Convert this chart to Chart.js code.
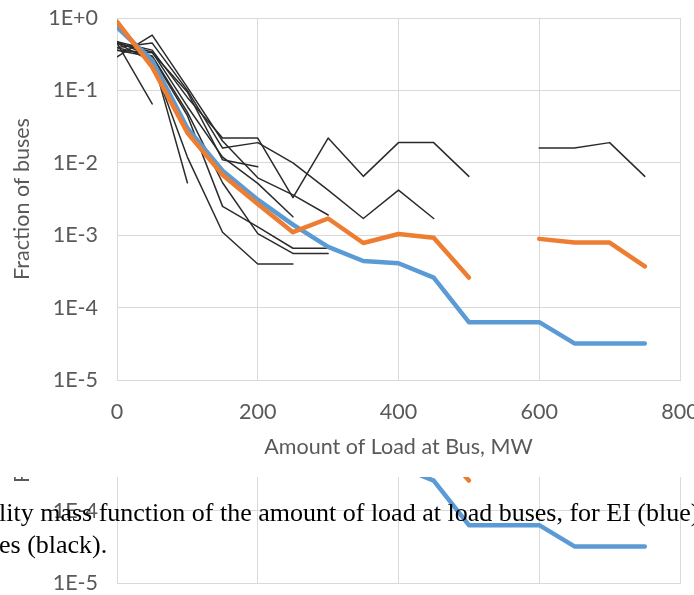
<!DOCTYPE html>
<html>
<head>
<meta charset="utf-8">
<script src="https://cdn.jsdelivr.net/npm/chart.js@4.4.1/dist/chart.umd.min.js"></script>
<style>
  html, body { margin: 0; padding: 0; background: #fff; width: 694px; height: 595px; overflow: hidden; }
  #main { position: absolute; left: 0; top: 0; }
  /* second copy of the plot, only its lower strip shows under the first one */
  #echo { position: absolute; left: 0; top: 477px; width: 720px; height: 118px; overflow: hidden; }
  #echo canvas { position: absolute; left: 0; top: -274px; }
  .caption { position: absolute; left: -1px; font-family: 'Liberation Serif', serif; font-size: 26px; line-height: 26px; color: #000; white-space: nowrap; }
</style>
</head>
<body>
<canvas id="main" width="720" height="470"></canvas>
<div id="echo"><canvas id="copy" width="720" height="470"></canvas></div>
<div class="caption" style="top: 500px;">lity mass function of the amount of load at load buses, for EI (blue)</div>
<div class="caption" style="top: 532px;">es (black).</div>
<script>
'use strict';
// load bins, MW
const loads = [0, 50, 100, 150, 200, 250, 300, 350, 400, 450, 500, 550, 600, 650, 700, 750];

// fraction of buses in each bin
const eiShare = [0.75, 0.26, 0.030, 0.0078, 0.0031, 0.0014, 0.00069, 0.00044, 0.00041, 0.00026,
  0.000063, 0.000063, 0.000063, 0.000032, 0.000032, 0.000032];
const orangeShare = [0.89, 0.21, 0.026, 0.0068, 0.0027, 0.0011, 0.0017, 0.00078, 0.00104, 0.00092,
  0.00026, null, 0.00089, 0.00079, 0.00079, 0.00037];

// the thin black cases
const n = null;
const caseShares = [
  [0.47, 0.36, 0.08, 0.022, 0.022, 0.0033, 0.022, 0.0065, 0.019, 0.019, 0.0065, n, 0.016, 0.016, 0.019, 0.0065],
  [0.39, 0.45, 0.10, 0.016, 0.019, 0.010, 0.0042, 0.0017, 0.0042, 0.0017, n, n, n, n, n, n],
  [0.36, 0.33, 0.095, 0.011, 0.0088, n, n, n, n, n, n, n, n, n, n, n],
  [0.29, 0.58, 0.11, 0.020, 0.0062, 0.0036, 0.0019, n, n, n, n, n, n, n, n, n],
  [0.45, 0.34, 0.06, 0.012, 0.0052, 0.0018, n, n, n, n, n, n, n, n, n, n],
  [0.47, 0.29, 0.045, 0.0025, 0.0013, 0.00066, 0.00066, n, n, n, n, n, n, n, n, n],
  [0.39, 0.30, 0.05, 0.0053, 0.00105, 0.00056, 0.00056, n, n, n, n, n, n, n, n, n],
  [0.45, 0.25, 0.012, 0.0011, 0.0004, 0.0004, n, n, n, n, n, n, n, n, n, n],
  [0.45, 0.065, n, n, n, n, n, n, n, n, n, n, n, n, n, n],
  [0.36, 0.29, 0.0053, n, n, n, n, n, n, n, n, n, n, n, n, n],
];

// axis ticks
const xTickValues = [0, 200, 400, 600, 800];
const yTickValues = [1, 1e-1, 1e-2, 1e-3, 1e-4, 1e-5];
const yTickLabels = ['1E+0', '1E-1', '1E-2', '1E-3', '1E-4', '1E-5'];

const textColor = '#595959';
const gridColor = '#d9d9d9';
const axisFont = { family: 'Lato', size: 21.5 };

function toPoints(values) {
  return loads.map((x, i) => ({ x: x, y: values[i] }));
}

function buildDatasets() {
  const sets = [
    { data: toPoints(orangeShare), borderColor: '#ed7d31', borderWidth: 4.5, order: 0 },
    { data: toPoints(eiShare), borderColor: '#5b9bd5', borderWidth: 4.5, order: 1 },
  ];
  for (let i = 0; i < caseShares.length; i++) {
    sets.push({ data: toPoints(caseShares[i]), borderColor: '#2b2b2b', borderWidth: 1.5, order: 2 });
  }
  return sets;
}

function renderChart(canvasId) {
  const ctx = document.getElementById(canvasId).getContext('2d');
  new Chart(ctx, {
    type: 'line',
    data: { datasets: buildDatasets() },
    options: {
      responsive: false,
      animation: false,
      devicePixelRatio: 1,
      layout: { padding: { top: 18, right: 40, bottom: 0, left: 0 } },
      plugins: { legend: { display: false }, tooltip: { enabled: false } },
      elements: {
        point: { radius: 0 },
        line: { tension: 0, borderCapStyle: 'round', borderJoinStyle: 'round' },
      },
      scales: {
        x: {
          type: 'linear',
          min: 0,
          max: 800,
          afterBuildTicks: (scale) => { scale.ticks = xTickValues.map((v) => ({ value: v })); },
          afterFit: (scale) => { scale.height = 90; },
          grid: { color: gridColor, drawTicks: false },
          border: { color: gridColor },
          ticks: { padding: 19, color: textColor, font: axisFont, maxRotation: 0 },
          title: {
            display: true,
            text: 'Amount of Load at Bus, MW',
            color: textColor,
            font: axisFont,
            padding: { top: 0, bottom: 10 },
          },
        },
        y: {
          type: 'logarithmic',
          min: 1e-5,
          max: 1,
          afterBuildTicks: (scale) => { scale.ticks = yTickValues.map((v) => ({ value: v })); },
          afterFit: (scale) => {
            scale.width = 117;
            // the tick padding is a horizontal gap here, keep it out of the top/bottom margins
            scale.paddingTop = 0;
            scale.paddingBottom = 0;
          },
          grid: { color: gridColor, drawTicks: false },
          border: { color: gridColor },
          ticks: {
            padding: 19,
            color: textColor,
            font: axisFont,
            callback: (value, index) => yTickLabels[index],
          },
          title: {
            display: true,
            text: 'Fraction of buses',
            color: textColor,
            font: axisFont,
            padding: { top: 9, bottom: 0 },
          },
        },
      },
    },
  });
}

renderChart('main');
renderChart('copy');
</script>
</body>
</html>
